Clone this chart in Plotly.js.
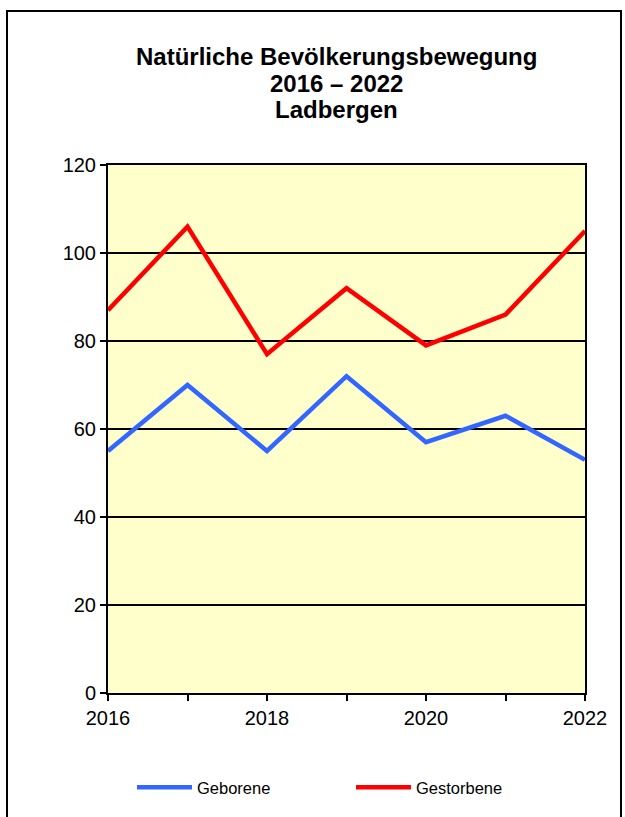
<!DOCTYPE html>
<html>
<head>
<meta charset="utf-8">
<script src="https://cdn.plot.ly/plotly-3.0.1.min.js"></script>
<style>
  html, body { margin: 0; padding: 0; background: #ffffff; }
  #frame { position: absolute; left: 6px; top: 10px; width: 616px; height: 900px; border: 2px solid #000; box-sizing: border-box; }
  #chart { position: absolute; left: 0; top: 0; width: 625px; height: 817px; }
</style>
</head>
<body>
<div id="frame"></div>
<div id="chart"></div>
<script>
const years = [2016, 2017, 2018, 2019, 2020, 2021, 2022];
const geborene = [55, 70, 55, 72, 57, 63, 53];
const gestorbene = [87, 106, 77, 92, 79, 86, 105];
const xTickLabels = ['2016', '', '2018', '', '2020', '', '2022'];
const yTicks = [0, 20, 40, 60, 80, 100, 120];
const titleLines = ['Natürliche Bevölkerungsbewegung', '2016 – 2022', 'Ladbergen'];

const font = 'Liberation Sans, Arial, sans-serif';
const H = 817, plotTop = 165, plotBottom = 693;
const titleCentersPx = [57, 83, 110];

const traces = [
  { x: years, y: geborene, name: 'Geborene', type: 'scatter', mode: 'lines',
    line: { color: '#3366FF', width: 4.5 }, cliponaxis: false },
  { x: years, y: gestorbene, name: 'Gestorbene', type: 'scatter', mode: 'lines',
    line: { color: '#FF0000', width: 4.5 }, cliponaxis: false }
];

const annotations = titleLines.map((t, i) => ({
  text: '<b>' + t + '</b>',
  xref: 'paper', yref: 'paper',
  x: (336 - 108) / 477, xanchor: 'center',
  y: (plotBottom - titleCentersPx[i]) / (plotBottom - plotTop), yanchor: 'middle',
  showarrow: false,
  font: { family: font, size: 24, color: '#000' }
}));

const layout = {
  width: 625, height: H,
  margin: { l: 108, r: 40, t: 165, b: 124 },
  paper_bgcolor: 'rgba(0,0,0,0)',
  plot_bgcolor: '#FFFFCC',
  font: { family: font, color: '#000', size: 20 },
  annotations: annotations,
  xaxis: {
    range: [2016, 2022],
    tickvals: years, ticktext: xTickLabels,
    ticks: 'outside', ticklen: 6, tickwidth: 2, tickcolor: '#000',
    showline: true, linecolor: '#000', linewidth: 2, mirror: true,
    showgrid: false, zeroline: false,
    tickfont: { family: font, size: 20, color: '#000' }
  },
  yaxis: {
    range: [0, 120],
    tickvals: yTicks,
    ticks: 'outside', ticklen: 6, tickwidth: 2, tickcolor: '#000',
    showline: true, linecolor: '#000', linewidth: 2, mirror: true,
    showgrid: true, gridcolor: '#000', gridwidth: 2, zeroline: false,
    tickfont: { family: font, size: 20, color: '#000' }
  },
  showlegend: true,
  legend: {
    orientation: 'h',
    x: 132 / 625, xref: 'container', xanchor: 'left',
    y: 1 - 770 / H, yref: 'container', yanchor: 'top',
    font: { family: font, size: 16.5, color: '#000' },
    entrywidth: 149, itemwidth: 55,
    bgcolor: 'rgba(0,0,0,0)'
  }
};

Plotly.newPlot('chart', traces, layout, { displayModeBar: false, staticPlot: true }).then(gd => {
  // lengthen legend line samples to match the reference style
  gd.querySelectorAll('.legend .legendlines path').forEach(p => p.setAttribute('d', 'M5,0h55'));
});
</script>
</body>
</html>
